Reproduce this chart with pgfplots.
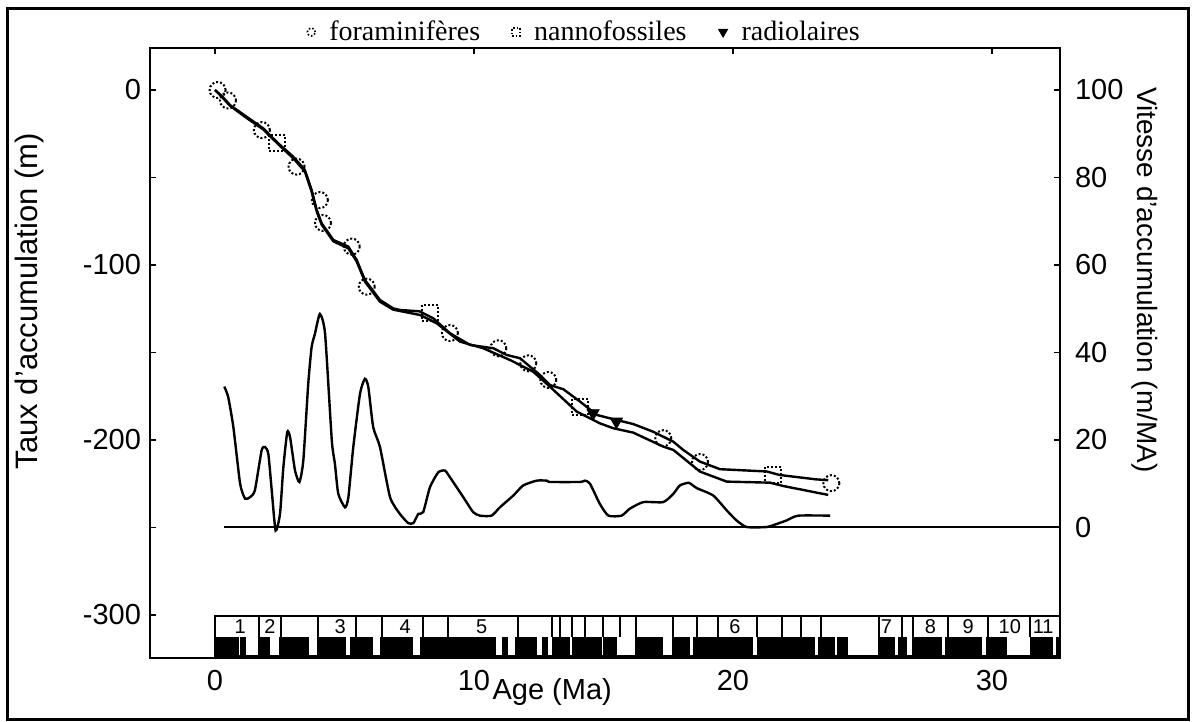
\documentclass[border=0pt]{standalone}
\usepackage{fontspec}
\setmainfont{Liberation Sans}
\newfontfamily\legfont{Liberation Serif}
\usepackage{pgfplots}
\pgfplotsset{compat=1.18}

% white stripes in the black (polarity) row, and dividers in the chron row
\newcommand{\ws}[2]{\addplot[forget plot, fill=white, draw=none] coordinates {(#1,-312.6) (#2,-312.6) (#2,-322.8) (#1,-322.8)};}
\newcommand{\cd}[1]{\addplot[forget plot, black, line width=1pt] coordinates {(#1,-300.6) (#1,-312.6)};}

\pgfplotstableread{
age depth
0 0
0.3 -4
0.58 -8.6
1.22 -15.3
1.86 -21.9
2.2 -27
2.51 -31.4
3.02 -38.1
3.47 -45.7
3.73 -57.1
3.93 -68.6
4.12 -76.2
4.57 -85.7
5.15 -89.5
5.47 -97.1
5.79 -108.6
6.37 -120
6.88 -124.8
7.14 -125.7
7.9 -126.5
8.43 -130.5
9.07 -139
9.85 -145.7
10.75 -147.6
11.26 -151.4
11.78 -153.3
12.55 -162.9
12.93 -168.6
13.45 -171
14.09 -178
14.74 -185.7
15.51 -188.6
16.15 -190.9
16.92 -195.3
17.7 -201
18.08 -205.7
18.73 -212.4
19.5 -216.7
21.3 -218
21.8 -220
23.2 -222.5
23.68 -223
}\curveA

\pgfplotstableread{
age depth
0 0
0.3 -4.5
0.58 -9
1.22 -16
1.86 -22.5
2.51 -32
3.02 -39
3.47 -46.5
3.73 -58
3.93 -69.5
4.12 -77
4.57 -86.5
5.15 -90.5
5.47 -98
5.79 -109.5
6.37 -121
6.88 -125.5
7.14 -126.3
7.92 -128.6
8.56 -133.3
9.46 -143.8
10.36 -147.6
11.39 -154.3
12.29 -161
12.93 -169.5
13.97 -183.8
14.86 -190.5
15.38 -193.3
16.15 -195.8
17.31 -203.8
17.7 -205.7
18.73 -218.1
19.76 -223.8
21.43 -224.4
21.94 -226.3
23.68 -231.4
}\curveB

\pgfplotstableread{
age rate
0.36 32.2
0.51 29.8
0.71 22.9
0.97 10.0
1.16 6.6
1.35 6.9
1.54 8.5
1.80 17.6
1.93 18.4
2.06 16.8
2.19 8.5
2.34 -0.7
2.51 3.1
2.64 13.8
2.79 21.8
2.90 20.6
3.09 13.0
3.26 10.4
3.41 15.3
3.60 32.8
3.73 41.2
3.86 44.3
4.05 48.8
4.25 44.3
4.51 19.9
4.63 14.6
4.76 7.7
5.02 4.6
5.15 6.9
5.34 18.4
5.60 30.6
5.79 34.0
5.92 32.1
6.11 22.9
6.37 18.4
6.76 6.9
7.14 3.1
7.46 1.0
7.66 1.0
7.85 3.1
8.04 3.5
8.30 9.2
8.62 12.6
8.88 13.0
9.07 11.5
9.59 6.9
9.97 3.5
10.23 2.7
10.68 2.7
11.00 4.6
11.52 7.3
11.90 9.6
12.42 10.7
12.81 10.7
12.93 10.4
14.09 10.4
14.29 10.7
14.48 10.0
14.86 5.4
15.19 2.7
15.70 2.7
16.02 4.3
16.54 5.8
17.31 5.8
17.70 7.7
17.95 9.6
18.3 10.2
18.6 9.0
19.24 7.3
19.76 3.9
20.14 1.6
20.53 0.1
21.30 0.1
21.69 0.8
22.07 1.6
22.52 2.7
23.75 2.7
}\rate

\pgfplotstableread{
x y label
0.97 -306.6 1
2.12 -306.6 2
4.83 -306.6 3
7.34 -306.6 4
10.3 -306.6 5
20.08 -306.6 6
25.93 -306.6 7
27.63 -306.6 8
29.08 -306.6 9
30.69 -306.6 10
31.98 -306.6 11
}\chronlabels

\begin{document}
\begin{tikzpicture}
\begin{axis}[name=ax,
  width=455pt, height=305pt, scale only axis,
  xmin=-2.51, xmax=32.63, ymin=-324.6, ymax=24,
  axis line style={line width=1.2pt},
  tick align=inside, major tick length=3pt, minor tick length=3pt,
  every tick/.style={black, line width=0.9pt},
  xtick={0,10,20,30}, xtick pos=both, xticklabel pos=lower,
  ytick={-300,-200,-100,0}, minor ytick={-250,-150,-50}, ytick pos=left,
  tick label style={font=\fontsize{14.5}{16}\selectfont},
  /pgf/number format/assume math mode=true,
  xticklabel style={yshift=-2.5pt},
  yticklabel style={xshift=-1pt},
  xlabel={Age (Ma)},
  xlabel style={at={(axis description cs:0.442,0)}, anchor=center, yshift=-17pt, font=\fontsize{14.5}{16}\selectfont},
  ylabel={Taux d'accumulation (m)},
  ylabel style={at={(axis description cs:-0.132,0.585)}, anchor=center, font=\fontsize{15.5}{17}\selectfont},
  legend columns=3,
  legend image code/.code={\draw[#1] plot coordinates {(0cm,0cm)};},
  legend style={at={(axis description cs:0.4786,1)}, anchor=center, yshift=8pt,
    draw=none, fill=none, font=\legfont\fontsize{14}{16}\selectfont,
    /tikz/every odd column/.append style={column sep=5pt},
    /tikz/every even column/.append style={column sep=14pt}},
]
\addlegendimage{only marks, mark=o, mark size=2pt, mark options={densely dotted, line width=0.8pt}}
\addlegendentry{foraminifères}
\addlegendimage{only marks, mark=square, mark size=2pt, mark options={densely dotted, line width=0.8pt}}
\addlegendentry{nannofossiles}
\addlegendimage{only marks, mark=triangle*, mark size=2.6pt, mark options={rotate=180}}
\addlegendentry{radiolaires}

% polarity row (black with normal-polarity white stripes)
\addplot[forget plot, fill=black, draw=none] coordinates {(0,-312.6) (32.63,-312.6) (32.63,-330) (0,-330)};
\ws{0.92}{0.97}
\ws{1.20}{1.67}
\ws{2.12}{2.47}
\ws{3.64}{3.93}
\ws{5.04}{5.21}
\ws{6.11}{6.37}
\ws{7.66}{7.92}
\ws{10.85}{11.07}
\ws{11.33}{11.58}
\ws{12.42}{12.61}
\ws{12.87}{13.00}
\ws{13.71}{13.77}
\ws{14.93}{14.99}
\ws{15.51}{16.22}
\ws{17.31}{17.63}
\ws{18.34}{18.47}
\ws{20.78}{20.91}
\ws{23.17}{23.29}
\ws{23.94}{24.03}
\ws{24.45}{25.61}
\ws{26.25}{26.38}
\ws{26.73}{26.90}
\ws{28.06}{28.19}
\ws{29.60}{29.79}
\ws{30.57}{31.47}
\ws{32.37}{32.47}
% chron row outline and dividers
\addplot[forget plot, black, line width=1pt] coordinates {(0,-324.6) (0,-300.6) (32.63,-300.6)};
\cd{1.70}\cd{2.54}\cd{3.96}\cd{5.43}\cd{6.46}\cd{8.02}\cd{9.01}\cd{11.69}
\cd{13.02}\cd{13.32}\cd{13.77}\cd{14.29}\cd{14.99}\cd{15.64}\cd{16.25}\cd{17.70}
\cd{18.62}\cd{19.43}\cd{20.91}\cd{21.90}\cd{22.63}\cd{23.40}\cd{25.65}\cd{26.51}
\cd{26.96}\cd{28.31}\cd{29.86}\cd{31.49}
\addplot[forget plot, only marks, mark=none, nodes near coords, point meta=explicit symbolic,
  nodes near coords style={anchor=center, font=\fontsize{10}{11}\selectfont, inner sep=0pt}]
  table[x=x, y=y, meta=label] {\chronlabels};

% accumulation curves
\addplot[forget plot, black, line width=1.2pt] table[x=age, y=depth] {\curveA};
\addplot[forget plot, black, line width=1.2pt] table[x=age, y=depth] {\curveB};

% biostratigraphic markers
\addplot[forget plot, only marks, mark=o, mark size=4pt, mark options={densely dotted, line width=1pt}] coordinates {
(0.1,0) (0.5,-6) (1.81,-22.9) (3.15,-43.8) (4.05,-62.9) (4.17,-76) (5.28,-89.5) (5.86,-112.4)
(9.07,-138.9) (10.94,-147.6) (12.1,-156.2) (12.87,-165.7) (17.31,-199) (18.73,-212.6) (23.8,-224.7)};
\addplot[forget plot, only marks, mark=square, mark size=4pt, mark options={densely dotted, line width=1pt}] coordinates {
(2.39,-30.3) (8.3,-127.6) (14.09,-181) (21.56,-220)};
\addplot[forget plot, only marks, mark=triangle*, mark size=3.5pt, mark options={rotate=180}] coordinates {
(14.6,-184.7) (15.5,-189.5)};
\end{axis}

\begin{axis}[
  width=455pt, height=305pt, scale only axis,
  xmin=-2.51, xmax=32.63, ymin=-29.84, ymax=109.6,
  axis x line=none, axis y line*=right,
  axis line style={line width=1.2pt},
  tick align=inside, major tick length=3pt,
  every tick/.style={black, line width=0.9pt},
  ytick={0,20,40,60,80,100},
  tick label style={font=\fontsize{14.5}{16}\selectfont},
  /pgf/number format/assume math mode=true,
  yticklabel style={xshift=4pt},
  ylabel={Vitesse d'accumulation (m/MA)},
  ylabel style={at={(axis description cs:1.0934,0.62)}, anchor=center, rotate=180, font=\fontsize{14}{16}\selectfont},
]
\addplot[black, line width=1pt] coordinates {(0.35,0) (32.63,0)};
\addplot[black, line width=1.2pt, smooth, tension=0.35] table[x=age, y=rate] {\rate};
\end{axis}

\draw[line width=1.5pt] ([shift={(-71.25pt,-30.5pt)}]ax.south west) rectangle ([shift={(519pt,324.75pt)}]ax.south west);
\path[use as bounding box] ([shift={(-75pt,-32pt)}]ax.south west) rectangle ([shift={(521.5pt,329pt)}]ax.south west);
\end{tikzpicture}
\end{document}
